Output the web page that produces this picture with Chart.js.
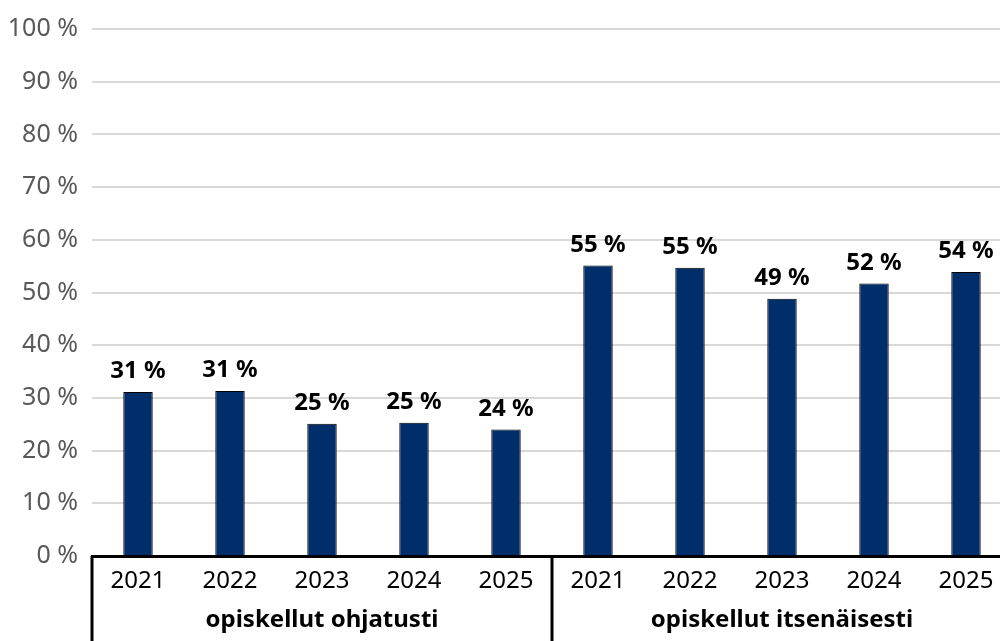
<!DOCTYPE html>
<html>
<head>
<meta charset="utf-8">
<script src="https://cdn.jsdelivr.net/npm/chart.js@4"></script>
<style>
  html, body { margin: 0; padding: 0; background: #fff; overflow: hidden; }
  #wrap { width: 1000px; height: 641px; overflow: hidden; position: relative; }
  #wrap canvas { position: absolute; left: 0; top: 0; }
</style>
</head>
<body>
<div id="wrap"><canvas id="chart" width="1016" height="641"></canvas></div>
<script>
const years = ["2021", "2022", "2023", "2024", "2025"];
const groups = ["opiskellut ohjatusti", "opiskellut itsenäisesti"];
const guidedValues = [31.1, 31.3, 25.1, 25.3, 24.0];
const independentValues = [55.1, 54.7, 48.8, 51.7, 53.9];
const yTicks = [0, 10, 20, 30, 40, 50, 60, 70, 80, 90, 100];

const labels = years.concat(years);
const values = guidedValues.concat(independentValues);
const fontFamily = "'Noto Sans', sans-serif";

// value labels above the bars
const barLabels = {
  id: "barLabels",
  afterDatasetsDraw(chart) {
    const ctx = chart.ctx;
    const meta = chart.getDatasetMeta(0);
    ctx.save();
    ctx.font = "bold 24px " + fontFamily;
    ctx.fillStyle = "#000";
    ctx.textAlign = "center";
    ctx.textBaseline = "alphabetic";
    meta.data.forEach((bar, i) => {
      ctx.fillText(Math.round(values[i]) + " %", bar.x, bar.y - 14);
    });
    ctx.restore();
  }
};

// group labels and box lines under the x axis
const groupAxis = {
  id: "groupAxis",
  afterDraw(chart) {
    const ctx = chart.ctx;
    const x = chart.scales.x;
    const top = chart.chartArea.bottom;
    const step = x.getPixelForValue(1) - x.getPixelForValue(0);
    ctx.save();
    ctx.strokeStyle = "#000";
    ctx.lineWidth = 3;
    for (let g = 0; g <= groups.length; g++) {
      const px = x.getPixelForValue(g * years.length) - step / 2;
      ctx.beginPath();
      ctx.moveTo(px, top);
      ctx.lineTo(px, chart.height + 5);
      ctx.stroke();
    }
    ctx.font = "bold 24px " + fontFamily;
    ctx.fillStyle = "#000";
    ctx.textAlign = "center";
    ctx.textBaseline = "alphabetic";
    groups.forEach((name, g) => {
      const a = x.getPixelForValue(g * years.length) - step / 2;
      const b = x.getPixelForValue((g + 1) * years.length - 1) + step / 2;
      ctx.fillText(name, (a + b) / 2, top + 71);
    });
    ctx.restore();
  }
};

new Chart(document.getElementById("chart"), {
  type: "bar",
  data: {
    labels: labels,
    datasets: [{
      data: values,
      backgroundColor: "#002e6b",
      borderColor: "#000",
      borderWidth: 1,
      barPercentage: 0.32,
      categoryPercentage: 1
    }]
  },
  options: {
    responsive: false,
    animation: false,
    layout: { padding: { top: 27, right: 4, left: 0, bottom: 0 } },
    plugins: { legend: { display: false }, tooltip: { enabled: false } },
    scales: {
      x: {
        grid: { display: false, drawTicks: false },
        border: { display: true, color: "#000", width: 3 },
        ticks: {
          color: "#000",
          font: { family: fontFamily, size: 24 },
          padding: 11,
          maxRotation: 0,
          autoSkip: false
        },
        afterFit(scale) { scale.height = 85; }
      },
      y: {
        min: 0,
        max: 100,
        afterBuildTicks(scale) { scale.ticks = yTicks.map(v => ({ value: v })); },
        grid: { color: "#d9d9d9", lineWidth: 2, drawTicks: false },
        border: { display: false },
        ticks: {
          color: "#595959",
          font: { family: fontFamily, size: 25 },
          padding: 14,
          callback: v => v + " %"
        },
        afterFit(scale) { scale.width = 92; }
      }
    }
  },
  plugins: [barLabels, groupAxis]
});
</script>
</body>
</html>
